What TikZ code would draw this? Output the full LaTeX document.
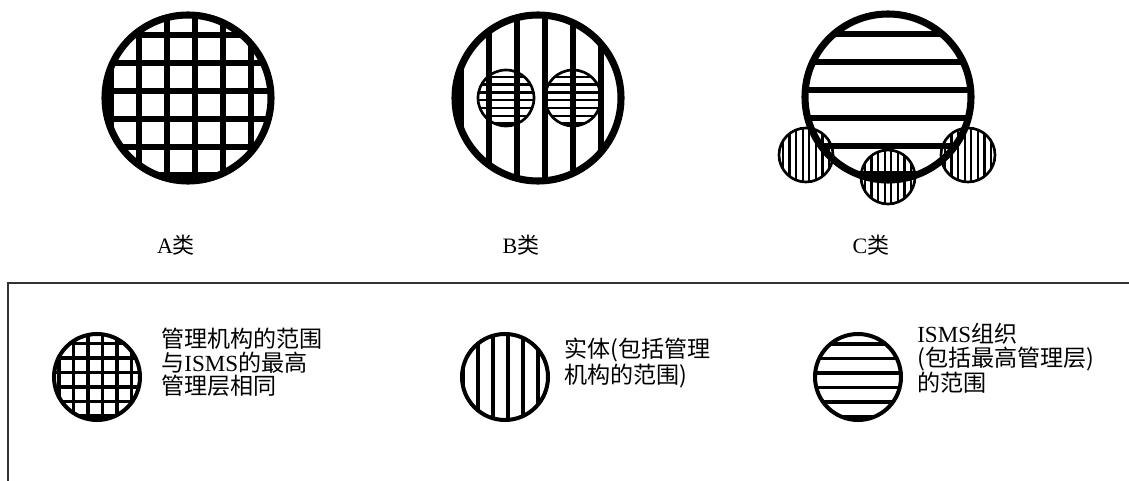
\documentclass[tikz,border=0pt]{standalone}
\usepackage{fontspec}
\setmainfont{Liberation Serif}
\newfontfamily\cjk{Noto Sans CJK SC}
\begin{document}
\begin{tikzpicture}[x=0.75pt,y=-0.75pt,
  bigring/.style={line width=5.3pt},
  bighatch/.style={line width=5.1pt},
  smallring/.style={line width=2pt},
  smallhatch/.style={line width=1.7pt},
  legring/.style={line width=3pt},
  leghatch/.style={line width=2.3pt},
  cat/.style={font=\fontsize{16.5}{18}\selectfont, inner sep=0pt},
  legtext/.style={font=\fontsize{17.3}{17.6}\selectfont, align=left, anchor=north west, inner sep=0pt},
  frame/.style={line width=0.8pt, black!80}]
\useasboundingbox (0,0) rectangle (1129,481);

% ---------- A ----------
\begin{scope}
  \clip (188,98) circle[radius=83];
  \foreach \x in {111,139,...,279} \draw[bighatch] (\x,0) -- (\x,200);
  \foreach \y in {7,35,...,190} \draw[bighatch] (90,\y) -- (290,\y);
\end{scope}
\draw[bigring] (188,98) circle[radius=83];

% ---------- B ----------
\begin{scope}
  \clip (538,98) circle[radius=83];
  \foreach \x in {461,489,...,629} \draw[bighatch] (\x,0) -- (\x,200);
\end{scope}
\draw[bigring] (538,98) circle[radius=83];
\foreach \cx in {506,573}{
  \begin{scope}
    \clip (\cx,98) circle[radius=28];
    \foreach \y in {69,76.8,...,130} \draw[smallhatch] (\cx-30,\y) -- (\cx+30,\y);
  \end{scope}
  \draw[smallring] (\cx,98) circle[radius=28];
}

% ---------- C ----------
\foreach \cx/\cy in {806/155,888/177,968/155}{
  \begin{scope}
    \clip (\cx,\cy) circle[radius=27];
    \foreach \k in {-4,...,4} \draw[smallhatch] ({\cx+3.3+6.6*\k},\cy-30) -- ({\cx+3.3+6.6*\k},\cy+30);
  \end{scope}
  \draw[smallring] (\cx,\cy) circle[radius=27];
}
\begin{scope}
  \clip (888,97) circle[radius=83];
  \foreach \y in {6,34,...,190} \draw[bighatch] (790,\y) -- (990,\y);
\end{scope}
\draw[bigring] (888,97) circle[radius=83];

% ---------- category labels ----------
\node[cat] (la) at (176,245) {A{\cjk 类}};
\node[cat] (lb) at (521,245) {B{\cjk 类}};
\node[cat] (lc) at (871,245) {C{\cjk 类}};

% ---------- legend frame ----------
\draw[frame] (1129,283) -- (8,283) -- (8,481);

% legend A
\begin{scope}
  \clip (97,377) circle[radius=43];
  \foreach \x in {59,73.5,...,150} \draw[leghatch] (\x,330) -- (\x,425);
  \foreach \y in {329,343.5,...,425} \draw[leghatch] (50,\y) -- (145,\y);
\end{scope}
\draw[legring] (97,377) circle[radius=43];
\node[legtext] (ta) at (161,328) {{\cjk 管理机构的范围}\\{\cjk 与}ISMS{\cjk 的最高}\\{\cjk 管理层相同}};

% legend B
\begin{scope}
  \clip (505,377) circle[radius=43];
  \foreach \x in {463,478,...,555} \draw[leghatch] (\x,330) -- (\x,425);
\end{scope}
\draw[legring] (505,377) circle[radius=43];
\node[legtext] (tb) at (564,338) {{\cjk 实体(包括管理}\\{\cjk 机构的范围)}};

% legend C
\begin{scope}
  \clip (858,377) circle[radius=43];
  \foreach \y in {329.5,344,...,425} \draw[leghatch] (810,\y) -- (910,\y);
\end{scope}
\draw[legring] (858,377) circle[radius=43];
\node[legtext] (tc) at (917,323) {ISMS{\cjk 组织}\\{\cjk (包括最高管理层)}\\{\cjk 的范围}};
\end{tikzpicture}
\end{document}
